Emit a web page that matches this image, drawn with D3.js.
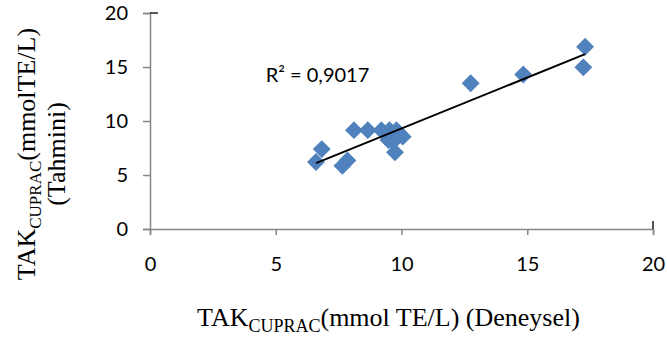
<!DOCTYPE html>
<html>
<head>
<meta charset="utf-8">
<script src="https://cdn.jsdelivr.net/npm/d3@7"></script>
<style>
  body { margin: 0; background: #fff; }
  svg { display: block; }
  .tick text { font-family: Lato, "Open Sans", sans-serif; font-size: 20px; fill: #000; }
  .title { font-family: "Liberation Serif", "Times New Roman", serif; font-size: 26px; fill: #000; }
</style>
</head>
<body>
<svg id="chart" width="667" height="342"></svg>
<script>
// measured (x) vs predicted (y) values
const measured = [6.6, 6.83, 7.65, 7.85, 8.11, 8.66, 9.2, 9.52, 9.8, 9.48, 9.66, 10.05, 9.74, 12.75, 14.84, 17.3, 17.23];
const predicted = [6.2, 7.4, 5.85, 6.35, 9.15, 9.15, 9.15, 9.15, 9.15, 8.24, 8.1, 8.55, 7.1, 13.5, 14.3, 16.88, 14.97];
const xTicks = [0, 5, 10, 15, 20];
const yTicks = [0, 5, 10, 15, 20];
const r2Label = "R² = 0,9017";

const width = 667, height = 342;
const margin = { top: 13, right: 14, bottom: 113, left: 150 };

const svg = d3.select("#chart");

const x = d3.scaleLinear().domain([0, 20]).range([margin.left, width - margin.right]);
const y = d3.scaleLinear().domain([0, 20]).range([height - margin.bottom, margin.top]);

const axisColor = "#868686";

// x axis
const gx = svg.append("g")
    .attr("transform", `translate(0,${y(0)})`)
    .call(d3.axisBottom(x).tickValues(xTicks).tickSize(6).tickPadding(22).tickFormat(d3.format("d")));
// y axis
const gy = svg.append("g")
    .attr("transform", `translate(${x(0)},0)`)
    .call(d3.axisLeft(y).tickValues(yTicks).tickSize(7).tickPadding(15).tickFormat(d3.format("d")));

[gx, gy].forEach(g => {
    g.select(".domain").attr("stroke", axisColor).attr("stroke-width", 1.5);
    g.selectAll(".tick line").attr("stroke", axisColor).attr("stroke-width", 1.5);
});
gx.selectAll(".tick text").attr("dy", "0.7em");

// small dark corner marks of the plot area
svg.append("line")
    .attr("x1", x(0)).attr("x2", x(0) + 8)
    .attr("y1", y(20)).attr("y2", y(20))
    .attr("stroke", "#222").attr("stroke-width", 1.5);
svg.append("line")
    .attr("x1", x(20)).attr("x2", x(20))
    .attr("y1", y(0)).attr("y2", y(0) - 8)
    .attr("stroke", "#222").attr("stroke-width", 1.5);

// data points (diamonds)
const points = measured.map((m, i) => ({ x: m, y: predicted[i] }));
const diamond = d3.symbol().type(d3.symbolSquare).size(160);
svg.append("g")
    .selectAll("path")
    .data(points)
    .join("path")
    .attr("d", diamond)
    .attr("transform", d => `translate(${x(d.x)},${y(d.y)}) rotate(45)`)
    .attr("fill", "#4F81BD");

// linear trendline (least squares)
const mx = d3.mean(points, d => d.x), my = d3.mean(points, d => d.y);
const slope = d3.sum(points, d => (d.x - mx) * (d.y - my)) / d3.sum(points, d => (d.x - mx) ** 2);
const intercept = my - slope * mx;
const [x0, x1] = d3.extent(measured);
svg.append("line")
    .attr("x1", x(x0)).attr("y1", y(slope * x0 + intercept))
    .attr("x2", x(x1)).attr("y2", y(slope * x1 + intercept))
    .attr("stroke", "#000").attr("stroke-width", 2);

// R² label
svg.append("text")
    .attr("x", x(4.6)).attr("y", y(13.6))
    .attr("font-family", "Lato, 'Open Sans', sans-serif")
    .attr("font-size", 20)
    .text(r2Label);

// x axis title
const xt = svg.append("text").attr("class", "title")
    .attr("x", (x(0) + x(20)) / 2 - 13).attr("y", 326)
    .attr("font-size", 27)
    .attr("text-anchor", "middle");
xt.append("tspan").text("TAK");
xt.append("tspan").attr("font-size", 18).attr("dy", 6).text("CUPRAC");
xt.append("tspan").attr("dy", -6).text("(mmol TE/L) (Deneysel)");

// y axis title (two lines, rotated)
const yt = svg.append("text").attr("class", "title")
    .attr("transform", `translate(35,${154}) rotate(-90)`)
    .attr("text-anchor", "middle");
yt.append("tspan").text("TAK");
yt.append("tspan").attr("font-size", 17).attr("dy", 6).text("CUPRAC");
yt.append("tspan").attr("dy", -6).text("(mmolTE/L)");
svg.append("text").attr("class", "title")
    .attr("transform", `translate(65,${154}) rotate(-90)`)
    .attr("text-anchor", "middle")
    .text("(Tahmini)");
</script>
</body>
</html>
